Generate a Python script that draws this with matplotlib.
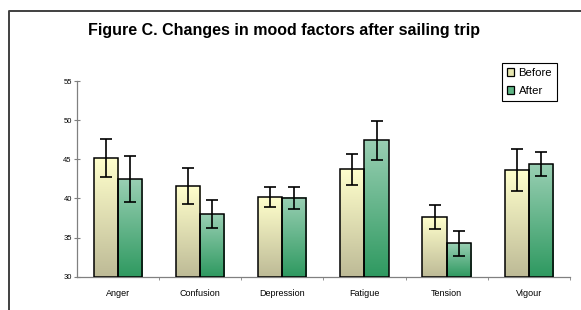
import numpy as np
import matplotlib
matplotlib.use('Agg')
import matplotlib.pyplot as plt
from matplotlib.colors import LinearSegmentedColormap
from matplotlib.patches import Patch
from matplotlib.lines import Line2D

# Data
categories = ['Anger', 'Confusion', 'Depression', 'Fatigue', 'Tension', 'Vigour']
before_mean = [45.2, 41.6, 40.2, 43.7, 37.6, 43.6]
before_err = [2.4, 2.3, 1.3, 2.0, 1.5, 2.7]
after_mean = [42.5, 38.0, 40.1, 47.4, 34.3, 44.4]
after_err = [2.9, 1.8, 1.4, 2.5, 1.6, 1.5]

plt.rcParams['font.family'] = ['Liberation Sans', 'DejaVu Sans']

W, H = 581, 310
fig = plt.figure(figsize=(W / 100, H / 100), dpi=100)
ax = fig.add_axes([76.7 / W, 1 - 276.7 / H, (570 - 76.7) / W, (276.7 - 81) / H])

cmap_before = LinearSegmentedColormap.from_list('before', ['#BDBA96', '#FFFFCC'])
cmap_after = LinearSegmentedColormap.from_list('after', ['#2E9960', '#99CFB3'])

x = np.arange(len(categories))
bw = 0.295
ymin = 30
grad = np.linspace(0, 1, 256).reshape(-1, 1)

bars_b = ax.bar(x - bw / 2, np.array(before_mean) - ymin, bw, bottom=ymin,
                facecolor='none', edgecolor='black', linewidth=1.1, zorder=3)
bars_a = ax.bar(x + bw / 2, np.array(after_mean) - ymin, bw, bottom=ymin,
                facecolor='none', edgecolor='black', linewidth=1.1, zorder=3)

# gradient fill per bar
for bars, cmap in ((bars_b, cmap_before), (bars_a, cmap_after)):
    for p in bars:
        x0, w = p.get_x(), p.get_width()
        y0, h = p.get_y(), p.get_height()
        ax.imshow(grad, extent=(x0, x0 + w, y0, y0 + h), origin='lower',
                  cmap=cmap, aspect='auto', zorder=2, interpolation='bilinear')

ax.errorbar(x - bw / 2, before_mean, yerr=before_err, fmt='none', ecolor='black',
            elinewidth=1.2, capsize=4.5, capthick=1.2, zorder=4)
ax.errorbar(x + bw / 2, after_mean, yerr=after_err, fmt='none', ecolor='black',
            elinewidth=1.2, capsize=4.5, capthick=1.2, zorder=4)

ax.set_xlim(-0.5, len(categories) - 0.5)
ax.set_ylim(30, 55)
ax.set_yticks(range(30, 56, 5))
ax.set_xticks(x)
ax.set_xticklabels(categories, fontsize=6.5)
ax.set_xticks(np.arange(0.5, len(categories), 1), minor=True)
ax.tick_params(axis='x', which='major', length=0, pad=8.5)
ax.tick_params(axis='x', which='minor', length=2.5, direction='out', color='#808080')
ax.tick_params(axis='y', labelsize=5.5, length=4, direction='inout', color='#808080', pad=1.5)

for s in ('top', 'right'):
    ax.spines[s].set_visible(False)
for s in ('left', 'bottom'):
    ax.spines[s].set_color('#808080')
    ax.spines[s].set_linewidth(0.9)

fig.text(284 / W, 1 - 31 / H, 'Figure C. Changes in mood factors after sailing trip',
         ha='center', va='center', fontsize=11.5, fontweight='bold')

handles = [Patch(facecolor='#E6E6B0', edgecolor='black', linewidth=0.9),
           Patch(facecolor='#5FB585', edgecolor='black', linewidth=0.9)]
leg = fig.legend(handles, ['Before', 'After'], loc='upper left',
                 bbox_to_anchor=(502 / W, 1 - 63 / H), fontsize=8.2,
                 handlelength=0.6, handleheight=0.6, handletextpad=0.4,
                 labelspacing=0.7, borderpad=0.45, borderaxespad=0,
                 fancybox=False, edgecolor='black', framealpha=1)
leg.get_frame().set_linewidth(0.8)

# outer frame (left and top edges)
fig.add_artist(Line2D([8.5 / W, 8.5 / W, 1.0], [0, 1 - 11 / H, 1 - 11 / H],
                      transform=fig.transFigure, color='#404040', linewidth=1.4))

fig.savefig('out.png', dpi=100)
